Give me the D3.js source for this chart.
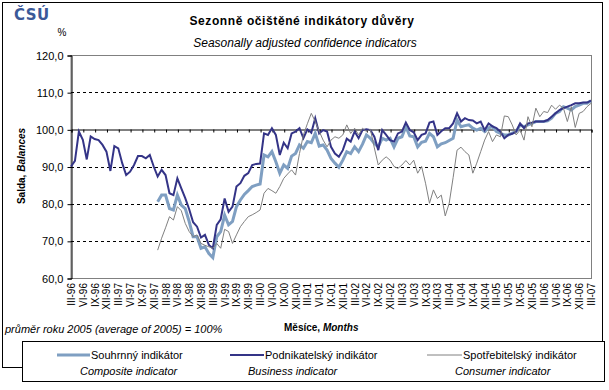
<!DOCTYPE html>
<html><head><meta charset="utf-8">
<script src="https://cdn.jsdelivr.net/npm/d3@7"></script>
<style>
html,body{margin:0;padding:0;background:#fff;}
svg text{font-family:"Liberation Sans",Arial,sans-serif;}
</style></head>
<body><svg id="c" width="609" height="390"></svg>
<script>
// ---- data ----
const tickLabels = ["III-96","VI-96","IX-96","XII-96","III-97","VI-97","IX-97","XII-97","III-98","VI-98","IX-98","XII-98",
"III-99","VI-99","IX-99","XII-99","III-00","VI-00","IX-00","XII-00","III-01","VI-01","IX-01","XII-01",
"III-02","VI-02","IX-02","XII-02","III-03","VI-03","IX-03","XII-03","III-04","VI-04","IX-04","XII-04",
"III-05","VI-05","IX-05","XII-05","III-06","VI-06","IX-06","XII-06","III-07"];
const yTicks = [60,70,80,90,100,110,120];

const business = [
90.0,91.5,99.4,97.2,91.9,98.1,97.4,97.1,95.8,94.0,
88.8,95.5,94.9,90.9,87.7,88.6,90.4,92.8,92.8,92.2,
93.1,90.0,87.3,89.1,87.7,82.8,82.3,86.8,84.1,81.5,
78.5,75.0,73.8,70.9,71.6,68.9,68.0,74.3,75.8,81.4,
77.8,79.2,84.6,85.5,87.5,88.2,90.4,90.7,90.8,98.9,
98.5,100.3,98.5,93.1,96.4,94.9,98.9,99.4,100.3,97.6,
100.0,99.1,103.0,98.9,99.8,99.4,95.3,93.5,92.6,94.4,
97.5,96.7,99.4,97.6,99.8,100.0,99.8,98.0,94.4,99.8,
98.5,97.1,96.7,98.9,99.4,101.8,99.8,99.2,97.1,98.5,
98.9,101.8,102.1,98.5,99.5,100.3,100.3,101.6,104.3,102.1,
103.0,102.5,102.4,101.6,102.1,99.8,101.6,100.8,100.3,99.4,
97.6,98.5,98.8,99.4,101.6,100.3,101.6,101.8,102.1,102.1,
102.1,102.5,103.4,104.3,105.2,105.7,106.1,106.5,107.0,107.0,
107.2,107.2,107.7];

const composite = [
null,null,null,null,null,null,null,null,null,null,
null,null,null,null,null,null,null,null,null,null,
null,null,80.5,82.3,82.3,78.7,78.3,82.3,79.6,78.7,
75.2,71.1,71.1,68.0,68.4,66.6,65.5,71.1,72.5,76.9,
74.3,75.2,79.2,81.0,82.5,83.5,84.6,85.0,85.3,93.1,
92.6,94.0,91.3,88.2,90.4,89.5,92.8,93.5,95.8,94.9,
96.7,96.4,98.9,95.5,95.8,94.4,92.2,90.9,89.8,91.7,
94.0,93.5,95.3,94.0,96.0,98.5,97.6,96.2,95.3,97.6,
97.1,97.6,95.3,97.6,98.0,100.7,98.2,98.0,95.3,96.5,
96.8,98.9,98.0,95.3,96.1,96.4,97.0,97.6,102.5,100.7,
101.0,101.2,100.3,99.8,100.3,99.4,100.4,100.7,99.4,98.9,
98.5,98.5,99.0,99.4,101.2,100.7,101.2,101.6,102.1,102.1,
102.1,102.3,103.0,104.3,104.8,106.1,105.7,105.2,106.1,106.5,
107.0,107.0,107.7];

const consumer = [
null,null,null,null,null,null,null,null,null,null,
null,null,null,null,null,null,null,null,null,null,
null,null,67.5,70.7,73.5,76.5,75.6,79.2,78.1,74.7,
72.5,71.1,71.6,69.3,68.8,68.4,68.0,69.3,68.0,73.1,
72.5,69.3,71.6,73.8,75.2,76.5,77.0,77.6,78.3,82.8,
84.1,83.5,82.8,84.6,86.8,88.0,89.1,87.7,93.5,98.5,
101.5,104.3,102.1,99.5,97.1,95.3,97.1,98.0,97.6,98.5,
101.2,98.9,100.3,98.5,100.3,99.4,100.0,95.0,90.4,91.7,
92.6,91.7,90.0,89.5,90.4,91.6,90.4,91.7,88.2,90.0,
85.5,80.1,83.7,81.4,82.3,76.7,80.1,87.0,94.4,95.2,
94.0,93.1,88.2,90.9,94.0,97.1,99.4,96.7,98.5,98.0,
103.6,103.4,101.2,98.5,99.8,97.1,103.4,100.7,105.7,103.4,
104.8,104.5,106.5,105.4,106.5,105.7,102.1,106.1,100.5,104.3,
104.8,106.1,107.0];

const seriesNames = [
  {cz:"Souhrnný indikátor", en:"Composite indicator"},
  {cz:"Podnikatelský indikátor", en:"Business indicator"},
  {cz:"Spotřebitelský indikátor", en:"Consumer indicator"}
];

// ---- layout ----
const svg = d3.select("#c");
const L = 71, R = 591, T = 55, B = 278;
const x = d3.scaleLinear().domain([0, business.length - 1]).range([L, R]);
const y = d3.scaleLinear().domain([60, 120]).range([B, T]);

// outer frame
svg.append("rect").attr("x",2.5).attr("y",2.5).attr("width",600).attr("height",365)
  .attr("fill","none").attr("stroke","#000").attr("stroke-width",1);

// logo
svg.append("text").attr("x",14).attr("y",20).text("ČSÚ")
  .attr("font-size",15).attr("font-weight","900").attr("fill","#3b5998")
  .style("font-family","'DejaVu Sans',sans-serif").attr("letter-spacing",0.5);

// titles
svg.append("text").attr("x",302).attr("y",25).attr("text-anchor","middle")
  .attr("font-size",12).attr("font-weight","bold").attr("letter-spacing",0.6)
  .text("Sezonně očištěné indikátory důvěry");
svg.append("text").attr("x",305).attr("y",47).attr("text-anchor","middle")
  .attr("font-size",12).attr("font-style","italic")
  .text("Seasonally adjusted confidence indicators");
svg.append("text").attr("x",62).attr("y",36).attr("text-anchor","middle")
  .attr("font-size",10).text("%");

// plot border (gray)
svg.append("rect").attr("x",L).attr("y",T+0.5).attr("width",R-L+0.5).attr("height",B-T)
  .attr("fill","none").attr("stroke","#808080").attr("stroke-width",1);

// dashed gridlines
svg.append("g").selectAll("line").data(yTicks.filter(v=>v>60 && v<120 && v!==100)).join("line")
  .attr("x1",L).attr("x2",R).attr("y1",d=>Math.round(y(d))+0.5).attr("y2",d=>Math.round(y(d))+0.5)
  .attr("stroke","#000").attr("stroke-dasharray","3,3");

// y axis
const yAxis = d3.axisLeft(y).tickValues(yTicks).tickSize(4).tickFormat(d=>d3.format(".1f")(d).replace(".",","));
const gy = svg.append("g").attr("transform",`translate(${L+0.5},0.5)`).call(yAxis);
gy.select(".domain").attr("stroke","#000");
gy.selectAll("line").attr("stroke","#000");
gy.selectAll("text").attr("font-size",11).attr("fill","#000").attr("x",-8)
  .style("font-family","'Liberation Sans',Arial,sans-serif");

// category axis at 100
const tickIdx = tickLabels.map((_,k)=>k*3);
const xAxis = d3.axisBottom(x).tickValues(tickIdx).tickSize(3).tickFormat("");
const gx = svg.append("g").attr("transform",`translate(0.5,${Math.round(y(100))+0.5})`).call(xAxis);
gx.select(".domain").attr("stroke","#000");
gx.selectAll("line").attr("stroke","#000");

// x labels (low position)
svg.append("g").selectAll("text").data(tickLabels).join("text")
  .attr("transform",(d,k)=>`translate(${x(k*3)+4},283) rotate(-90)`)
  .attr("text-anchor","end").attr("font-size",10).text(d=>d);

// axis titles
const yt = svg.append("text").attr("transform","translate(25,166) rotate(-90)")
  .attr("text-anchor","middle").attr("font-size",10).attr("font-weight","bold");
yt.append("tspan").text("Salda, ");
yt.append("tspan").attr("font-style","italic").text("Balances");

const xt = svg.append("text").attr("x",284).attr("y",331).attr("font-size",10).attr("font-weight","bold");
xt.append("tspan").text("Měsíce, ");
xt.append("tspan").attr("font-style","italic").text("Months");

svg.append("text").attr("x",5).attr("y",333).attr("font-size",11).attr("font-style","italic")
  .text("průměr roku 2005 (average of 2005) = 100%");

// lines
const line = d3.line().defined(d=>d!=null).x((d,i)=>x(i)).y(d=>y(d));
const styles = [
  {data:composite, color:"#7f9fc2", w:3},
  {data:business, color:"#343487", w:2},
  {data:consumer, color:"#808080", w:1}
];
styles.forEach(s=>{
  svg.append("path").datum(s.data).attr("d",line).attr("fill","none")
    .attr("stroke",s.color).attr("stroke-width",s.w).attr("stroke-linejoin","miter");
});

// legend
svg.append("rect").attr("x",22.5).attr("y",341.5).attr("width",582).attr("height",40)
  .attr("fill","#fff").attr("stroke","#000");
const legX = [{l:57, t:91, e:80},{l:230, t:265, e:248},{l:427, t:463, e:455}];
styles.forEach((s,k)=>{
  svg.append("line").attr("x1",legX[k].l).attr("x2",legX[k].t-1).attr("y1",355).attr("y2",355)
    .attr("stroke",s.color).attr("stroke-width",s.w);
  svg.append("text").attr("x",legX[k].t).attr("y",359).attr("font-size",11).text(seriesNames[k].cz);
  svg.append("text").attr("x",legX[k].e).attr("y",375).attr("font-size",11).attr("font-style","italic").text(seriesNames[k].en);
});
</script></body></html>
